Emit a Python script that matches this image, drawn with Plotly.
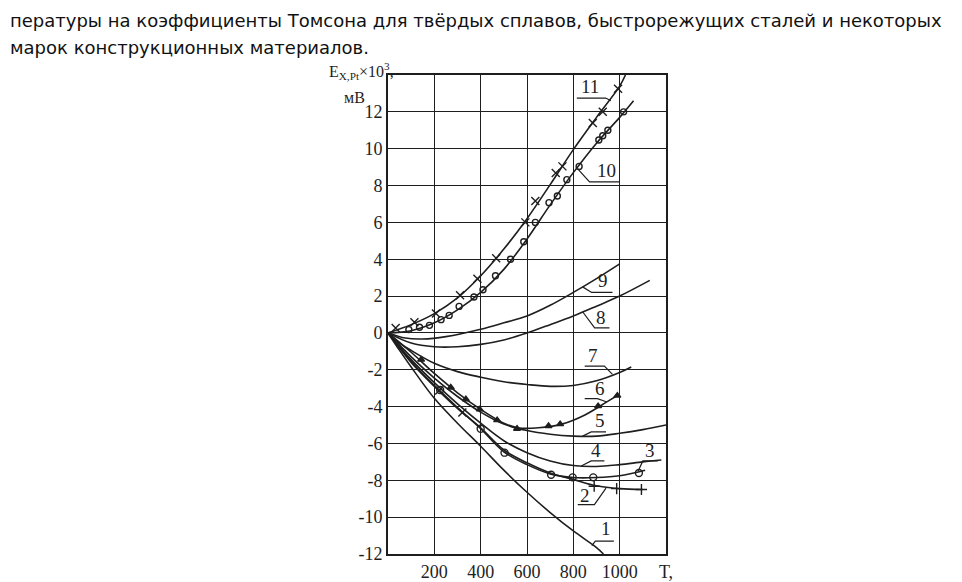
import plotly.graph_objects as go

# temperature T, thermo-EMF E (x10^3 mV)
c1_T = [0, 50, 100, 200, 300, 400, 500, 600, 700, 800, 900, 930]
c1_E = [0, -0.95, -1.85, -3.55, -4.9, -6.15, -7.45, -8.65, -9.75, -10.75, -11.65, -12]

c2_T = [0, 100, 200, 300, 400, 500, 600, 700, 800, 900, 1000, 1100]
c2_E = [0, -1.6, -2.9, -4.1, -5.15, -6.35, -7.05, -7.6, -7.95, -8.3, -8.45, -8.5]
c2_pts_T = [221, 321, 890, 987, 1094]
c2_pts_E = [-3.12, -4.32, -8.32, -8.45, -8.5]

c3_T = [0, 100, 200, 300, 400, 500, 600, 700, 800, 900, 1000, 1110]
c3_E = [0, -1.55, -2.85, -4.05, -5.2, -6.45, -7.15, -7.65, -7.85, -7.85, -7.75, -7.45]
c3_pts_T = [225, 400, 503, 704, 797, 886, 1083]
c3_pts_E = [-3.1, -5.2, -6.5, -7.7, -7.84, -7.84, -7.6]

c4_T = [0, 100, 200, 300, 400, 500, 600, 700, 800, 900, 1000, 1100, 1180]
c4_E = [0, -1.45, -2.7, -3.85, -4.9, -5.85, -6.5, -6.95, -7.2, -7.25, -7.15, -7.0, -6.9]

c5_T = [0, 100, 200, 300, 400, 500, 600, 700, 800, 900, 1000, 1100, 1200]
c5_E = [0, -1.3, -2.45, -3.45, -4.3, -4.95, -5.3, -5.5, -5.6, -5.6, -5.45, -5.25, -5.0]

c6_T = [0, 100, 200, 300, 400, 500, 560, 650, 750, 850, 950, 990]
c6_E = [0, -1.05, -2.2, -3.25, -4.15, -4.9, -5.15, -5.15, -4.95, -4.45, -3.7, -3.4]
c6_pts_T = [143, 271, 336, 396, 471, 557, 693, 743, 907, 990]
c6_pts_E = [-1.45, -2.96, -3.6, -4.15, -4.73, -5.2, -5.05, -4.95, -3.97, -3.4]

c7_T = [0, 50, 100, 200, 300, 400, 500, 600, 700, 800, 900, 1000, 1050]
c7_E = [0, -0.55, -0.95, -1.65, -2.1, -2.4, -2.65, -2.8, -2.9, -2.85, -2.6, -2.15, -1.85]

c8_T = [0, 100, 200, 300, 400, 500, 600, 700, 800, 900, 1000, 1130]
c8_E = [0, -0.55, -0.75, -0.75, -0.62, -0.38, 0, 0.45, 0.92, 1.45, 2.0, 2.85]

c9_T = [0, 75, 150, 250, 400, 500, 600, 700, 800, 900, 1000]
c9_E = [0, -0.28, -0.33, -0.2, 0.2, 0.55, 0.92, 1.5, 2.2, 2.95, 3.75]

c10_T = [0, 100, 200, 300, 400, 500, 600, 700, 800, 900, 1000, 1060]
c10_E = [0, 0.12, 0.55, 1.25, 2.2, 3.45, 5.1, 6.95, 8.7, 10.3, 11.7, 12.6]
c10_pts_T = [90, 136, 179, 229, 264, 307, 371, 410, 464, 529, 586, 636, 695, 731, 772, 825, 910, 927, 949, 1017]
c10_pts_E = [0.18, 0.31, 0.41, 0.72, 0.95, 1.44, 1.95, 2.34, 3.1, 4.0, 4.95, 6.0, 7.07, 7.43, 8.32, 9.04, 10.47, 10.7, 11.0, 12.0]

c11_T = [0, 100, 200, 300, 400, 500, 600, 700, 800, 900, 1000, 1025]
c11_E = [0, 0.45, 1.05, 1.9, 3.1, 4.55, 6.2, 8.05, 9.95, 11.7, 13.4, 14.0]
c11_pts_T = [33, 114, 207, 311, 386, 467, 593, 636, 724, 753, 884, 927, 993]
c11_pts_E = [0.27, 0.58, 1.05, 2.04, 2.94, 4.05, 6.0, 7.16, 8.68, 9.04, 11.4, 12.0, 13.25]

# curve numbers and their leader lines
label_names = ["1", "2", "3", "4", "5", "6", "7", "8", "9", "10", "11"]
label_T = [941, 849, 1131, 899, 913, 913, 887, 921, 926, 943, 874]
label_E = [-10.62, -8.85, -6.36, -6.36, -4.74, -3.03, -1.2, 0.86, 2.86, 8.8, 13.4]
leader_T = [[880, 895, 975], [941, 891, 819], [1080, 1100, 1165], [834, 877, 934],
            [840, 877, 941], [945, 904, 849], [969, 934, 849], [840, 892, 956],
            [840, 879, 969], [819, 870, 999], [962, 940, 815]]
leader_E = [[-11.55, -11.3, -11.3], [-8.42, -9.32, -9.32], [-7.5, -6.95, -6.95],
            [-7.22, -6.95, -6.95], [-5.6, -5.37, -5.37], [-3.75, -3.57, -3.57],
            [-2.25, -1.8, -1.8], [1.15, 0.27, 0.27], [2.5, 2.2, 2.2],
            [8.9, 8.2, 8.2], [12.6, 12.75, 12.75]]

x_ticks = [200, 400, 600, 800, 1000, 1200]
x_tick_text = ["200", "400", "600", "800", "1000", "T,"]
y_ticks = [-12, -10, -8, -6, -4, -2, 0, 2, 4, 6, 8, 10, 12]
y_tick_text = ["-12", "-10", "-8", "-6", "-4", "-2", "0", "2", "4", "6", "8", "10", "12"]

INK = "#1e1e1e"
SERIF = "Liberation Serif, Times New Roman, serif"

W, H = 962, 582
L, R, T, B = 380, 304, 67, 36


def paper_x(px):
    return (px - L) / (W - L - R)


def paper_y(py):
    return (H - B - py) / (H - T - B)


fig = go.Figure()

lines = [(c1_T, c1_E), (c2_T, c2_E), (c3_T, c3_E), (c4_T, c4_E), (c5_T, c5_E),
         (c6_T, c6_E), (c7_T, c7_E), (c8_T, c8_E), (c9_T, c9_E),
         (c10_T, c10_E), (c11_T, c11_E)]
for xs, ys in lines:
    fig.add_trace(go.Scatter(x=xs, y=ys, mode="lines",
                             line=dict(color=INK, width=1.6, shape="spline", smoothing=1.0)))

marker_sets = [
    (c2_pts_T, c2_pts_E, ["x-thin", "x-thin", "cross-thin", "cross-thin", "cross-thin"], 8),
    (c3_pts_T, c3_pts_E, "circle-open", 7),
    (c6_pts_T, c6_pts_E, "triangle-up", 6),
    (c10_pts_T, c10_pts_E, "circle-open", 6),
    (c11_pts_T, c11_pts_E, "x-thin", 8),
]
for xs, ys, sym, size in marker_sets:
    fig.add_trace(go.Scatter(x=xs, y=ys, mode="markers",
                             marker=dict(symbol=sym, size=size, color=INK,
                                         line=dict(color=INK, width=1.4))))

for xs, ys in zip(leader_T, leader_E):
    path = "M {},{} L {},{} L {},{}".format(xs[0], ys[0], xs[1], ys[1], xs[2], ys[2])
    fig.add_shape(type="path", path=path, xref="x", yref="y",
                  line=dict(color=INK, width=1.2))

for name, tx, ey in zip(label_names, label_T, label_E):
    fig.add_annotation(x=tx, y=ey, text=name, showarrow=False,
                       font=dict(family=SERIF, size=19, color=INK))

# axis title in the upper left corner
fig.add_annotation(x=paper_x(388), y=paper_y(63), xref="paper", yref="paper",
                   text="E<sub>X,Pt</sub>×10<sup>3</sup>,", showarrow=False,
                   xanchor="right", yanchor="middle",
                   font=dict(family=SERIF, size=16, color=INK))
fig.add_annotation(x=paper_x(346), y=paper_y(90), xref="paper", yref="paper",
                   text="мВ", showarrow=False, xanchor="center", yanchor="middle",
                   font=dict(family=SERIF, size=16, color=INK))

# surrounding text of the page
fig.add_annotation(x=paper_x(0), y=paper_y(12), xref="paper", yref="paper",
                   text="пературы на коэффициенты Томсона для твёрдых сплавов, быстрорежущих сталей и некоторых",
                   showarrow=False, xanchor="left", yanchor="middle",
                   font=dict(family="DejaVu Sans, sans-serif", size=18, color="#111"))
fig.add_annotation(x=paper_x(0), y=paper_y(39), xref="paper", yref="paper",
                   text="марок конструкционных материалов.",
                   showarrow=False, xanchor="left", yanchor="middle",
                   font=dict(family="DejaVu Sans, sans-serif", size=18, color="#111"))

fig.update_xaxes(range=[0, 1200], tickvals=x_ticks, ticktext=x_tick_text,
                 showgrid=True, gridcolor=INK, gridwidth=1.4,
                 showline=True, linecolor=INK, linewidth=2, mirror=True,
                 zeroline=False, ticks="", automargin=False,
                 tickfont=dict(family=SERIF, size=18, color=INK))
fig.update_yaxes(range=[-12, 14], tickvals=y_ticks, ticktext=y_tick_text,
                 showgrid=True, gridcolor=INK, gridwidth=1.4,
                 showline=True, linecolor=INK, linewidth=2, mirror=True,
                 zeroline=False, ticks="", automargin=False,
                 tickfont=dict(family=SERIF, size=18, color=INK))

fig.update_layout(
    width=W, height=H,
    margin=dict(l=L, r=R, t=T, b=B),
    paper_bgcolor="white", plot_bgcolor="white",
    showlegend=False,
)

fig.write_html("out.html")
